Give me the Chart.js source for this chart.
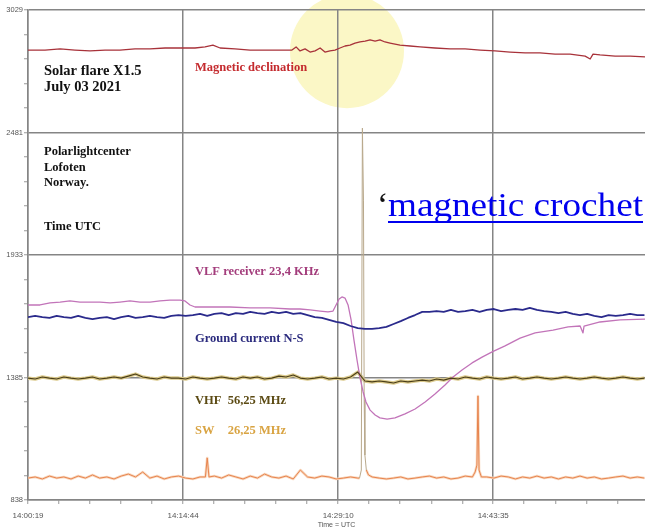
<!DOCTYPE html>
<html><head><meta charset="utf-8">
<script src="https://cdn.jsdelivr.net/npm/chart.js@4.4.1/dist/chart.umd.min.js"></script>
<style>html,body{margin:0;padding:0;background:#fff;}canvas{display:block;}</style>
</head><body>
<canvas id="c" width="645" height="529"></canvas>
<script>
// ---- axis ticks ----
const xTickValues = [0, 865, 1731, 2596];            // seconds after 14:00:19
const xTickLabels = ['14:00:19', '14:14:44', '14:29:10', '14:43:35'];
const yTickValues = [838, 1385.75, 1933.5, 2481.25, 3029];
const yTickLabels = ['838', '1385', '1933', '2481', '3029'];
const xMin = 0, xMax = 3443, yMin = 838, yMax = 3029;

// ---- Magnetic declination ----
const declTime = [0,95,179,262,346,430,513,597,681,765,848,932,988,1032,1072,1155,1239,1323,1406,1473,1496,1518,1546,1574,1602,1630,1657,1685,1713,1741,1769,1797,1825,1853,1881,1909,1937,1964,1992,2020,2076,2132,2188,2271,2355,2439,2523,2606,2690,2774,2857,2941,3025,3109,3137,3153,3192,3276,3360,3443];
const declValue = [2850,2850,2855,2850,2846,2850,2850,2855,2855,2859,2859,2859,2864,2872,2859,2855,2850,2850,2850,2850,2864,2846,2855,2841,2846,2859,2841,2846,2850,2859,2868,2872,2881,2886,2890,2895,2890,2895,2886,2881,2872,2868,2864,2859,2855,2855,2850,2846,2841,2837,2837,2832,2832,2823,2810,2832,2828,2823,2823,2819];

// ---- VLF receiver 23,4 KHz ----
const vlfTime = [0,67,123,179,234,290,346,402,458,513,569,625,681,737,792,848,876,904,932,1016,1127,1239,1351,1462,1518,1574,1630,1674,1702,1719,1736,1752,1769,1786,1803,1819,1836,1853,1870,1886,1909,1937,1964,2004,2048,2104,2160,2216,2271,2327,2372,2422,2478,2534,2590,2662,2746,2830,2930,3014,3081,3097,3103,3192,3304,3443];
const vlfValue = [1710,1710,1719,1723,1728,1723,1723,1723,1719,1723,1728,1723,1723,1728,1732,1732,1728,1710,1701,1701,1701,1697,1697,1692,1692,1688,1683,1679,1683,1710,1737,1746,1741,1710,1643,1553,1464,1383,1321,1276,1240,1218,1205,1200,1205,1223,1245,1276,1312,1352,1388,1419,1451,1477,1500,1527,1562,1585,1598,1612,1616,1585,1616,1634,1643,1647];

// ---- common 40 s sampling for Ground current and VHF ----
const gridTime = [0,40,80,120,160,200,240,280,320,360,400,440,480,520,560,600,640,680,720,760,800,840,880,920,960,1000,1040,1080,1120,1160,1200,1240,1280,1320,1360,1400,1440,1480,1520,1560,1600,1640,1680,1720,1760,1800,1840,1880,1920,1960,2000,2040,2080,2120,2160,2200,2240,2280,2320,2360,2400,2440,2480,2520,2560,2600,2640,2680,2720,2760,2800,2840,2880,2920,2960,3000,3040,3080,3120,3160,3200,3240,3280,3320,3360,3400,3440];
const groundValue = [1656,1661,1656,1652,1661,1656,1652,1661,1652,1647,
  1652,1656,1647,1656,1661,1652,1656,1661,1656,1652,
  1661,1665,1661,1665,1670,1661,1670,1674,1665,1674,
  1670,1679,1674,1670,1679,1674,1679,1670,1674,1665,
  1656,1652,1643,1634,1629,1616,1607,1603,1603,1607,
  1612,1625,1638,1652,1665,1679,1679,1683,1679,1688,
  1679,1683,1688,1679,1688,1692,1683,1688,1692,1688,
  1697,1688,1683,1679,1674,1679,1670,1665,1670,1661,
  1656,1665,1661,1665,1670,1665,1665];
const vhfValue = [1383,1379,1388,1383,1379,1388,1383,1379,1383,1388,
  1379,1383,1388,1383,1392,1401,1388,1383,1379,1388,
  1383,1383,1379,1388,1383,1379,1383,1388,1383,1379,
  1388,1383,1388,1379,1383,1392,1388,1397,1383,1379,
  1383,1388,1379,1383,1379,1388,1410,1370,1366,1370,
  1366,1361,1370,1366,1370,1374,1370,1379,1374,1383,
  1379,1388,1383,1379,1388,1383,1379,1383,1388,1379,
  1383,1388,1383,1379,1383,1388,1383,1379,1383,1388,
  1383,1379,1383,1388,1383,1379,1383];

// ---- SW 26,25 MHz ----
const swTime = [0,40,80,120,160,200,240,280,320,360,400,440,480,520,560,600,640,680,720,760,800,840,880,920,960,990,1000,1010,1040,1080,1120,1160,1200,1240,1280,1320,1360,1400,1440,1480,1520,1560,1600,1640,1680,1720,1760,1800,1840,1850,1860,1866,1872,1876,1880,1888,1900,1920,1960,2000,2040,2080,2120,2160,2200,2240,2280,2320,2360,2400,2440,2480,2495,2505,2511,2517,2530,2560,2600,2640,2680,2720,2760,2800,2840,2880,2920,2960,3000,3040,3080,3120,3160,3200,3240,3280,3320,3360,3400,3440];
const swValue = [936,941,932,945,936,941,932,945,936,950,936,941,932,945,954,941,963,936,945,932,941,945,936,932,941,941,1026,941,945,936,950,941,932,945,936,954,941,936,945,932,972,941,936,945,941,932,936,941,936,936,972,2501,2179,1285,1039,972,950,941,936,932,936,941,932,936,941,945,936,941,932,936,945,941,963,994,1303,972,941,941,936,945,941,932,941,936,945,936,941,932,941,936,945,936,941,932,936,941,945,936,941,936];
// time window of the main flare spike (seconds)
const flareWindow = [1850, 1888];

// ---- highlight circle (centre in data units) ----
const circleCentre = { t: 1780, v: 2845 };

function pts(t, v) { return t.map((x, i) => ({ x: x, y: v[i] })); }
function withMinors(majors, step, lo, hi) {
  const out = [];
  for (let i = 0; i < majors.length; i++) {
    out.push(majors[i]);
    for (let k = 1; k < 5; k++) { const m = majors[i] + step * k; if (m < hi) out.push(m); }
  }
  return out.filter(v => v >= lo && v <= hi);
}
const xAll = withMinors(xTickValues, 173.1, xMin, xMax);
const yAll = withMinors(yTickValues, 109.55, yMin, yMax);
const inFlare = c => c.p0.parsed.x >= flareWindow[0] && c.p1.parsed.x <= flareWindow[1];

const annot = {
  id: 'annot',
  beforeDraw(chart) {
    const { ctx, scales: { x, y } } = chart;
    ctx.save();
    ctx.fillStyle = '#fff';
    ctx.fillRect(0, 0, chart.width, chart.height);
    const cx = x.getPixelForValue(circleCentre.t), cy = y.getPixelForValue(circleCentre.v);
    ctx.beginPath(); ctx.arc(cx, cy, 57, 0, Math.PI * 2);
    ctx.fillStyle = '#fbf7c6'; ctx.fill();
    ctx.restore();
  },
  afterDatasetsDraw(chart) {
    const ctx = chart.ctx;
    ctx.save();
    ctx.textBaseline = 'middle';
    const t = (s, x, y, font, col, align) => { ctx.font = font; ctx.fillStyle = col; ctx.textAlign = align || 'left'; ctx.fillText(s, x, y); };
    const B = 'bold 12.5px "Liberation Serif"';
    t('Solar flare X1.5', 44, 71, 'bold 14.5px "Liberation Serif"', '#111');
    t('July 03 2021', 44, 87, 'bold 14.5px "Liberation Serif"', '#111');
    t('Magnetic declination', 195, 68, B, '#c42a2e');
    t('Polarlightcenter', 44, 152, B, '#111');
    t('Lofoten', 44, 168, B, '#111');
    t('Norway.', 44, 183, B, '#111');
    t('Time UTC', 44, 227, B, '#111');
    t('VLF receiver 23,4 KHz', 195, 272, B, '#a33d7c');
    t('Ground current N-S', 195, 339, B, '#2b2b7e');
    t('VHF', 195, 401, B, '#5c4b14');
    t('56,25 MHz', 286, 401, B, '#5c4b14', 'right');
    t('SW', 195, 431, B, '#d9a443');
    t('26,25 MHz', 286, 431, B, '#d9a443', 'right');
    // magnetic crochet
    ctx.textBaseline = 'alphabetic';
    t('\u2018', 377, 216, '34px "Liberation Serif"', '#111');
    ctx.font = '34px "Liberation Serif"';
    ctx.textAlign = 'left';
    const w = ctx.measureText('magnetic crochet').width;
    ctx.save();
    ctx.translate(388, 216);
    ctx.scale(255 / w, 1);
    ctx.fillStyle = '#0000ee';
    ctx.fillText('magnetic crochet', 0, 0);
    ctx.restore();
    ctx.fillStyle = '#0000ee';
    ctx.fillRect(388, 221, 255, 2);
    ctx.restore();
  }
};

function gridCol(majors) {
  return ctx => (ctx.tick && majors.some(m => Math.abs(m - ctx.tick.value) < 1e-6)) ? '#858585' : 'rgba(0,0,0,0)';
}

new Chart(document.getElementById('c'), {
  type: 'line',
  data: {
    datasets: [
      { label: 'Magnetic declination', data: pts(declTime, declValue), borderColor: '#a8323a', borderWidth: 1.3 },
      { label: 'Ground current N-S', data: pts(gridTime, groundValue), borderColor: '#2a2a8c', borderWidth: 1.8 },
      { label: 'VHF 56,25 MHz', data: pts(gridTime, vhfValue), borderColor: '#4a3e18', borderWidth: 1.1 },
      { label: 'VLF receiver 23,4 KHz', data: pts(vlfTime, vlfValue), borderColor: '#c274b9', borderWidth: 1.3 },
      { label: 'SW 26,25 MHz', data: pts(swTime, swValue), borderColor: '#e8844e', borderWidth: 1,
        segment: { borderColor: c => inFlare(c) ? '#b9a98c' : undefined } },
      { label: 'VHF halo', data: pts(gridTime, vhfValue), borderColor: '#dccb8e', borderWidth: 3.5 },
      { label: 'SW halo', data: pts(swTime, swValue), borderColor: '#f8d8bf', borderWidth: 2.6,
        segment: { borderColor: c => inFlare(c) ? 'rgba(0,0,0,0)' : undefined } }
    ]
  },
  options: {
    responsive: false, animation: false, devicePixelRatio: 1,
    elements: { point: { radius: 0 }, line: { tension: 0, borderJoinStyle: 'round' } },
    layout: { padding: { top: 10, right: 0, left: 0, bottom: 0 } },
    plugins: { legend: { display: false }, tooltip: { enabled: false } },
    scales: {
      x: {
        type: 'linear', min: xMin, max: xMax,
        afterBuildTicks: s => { s.ticks = xAll.map(v => ({ value: v })); },
        afterFit: s => { s.height = 29; },
        ticks: {
          autoSkip: false, maxRotation: 0, padding: 7, color: '#555',
          font: { family: '"Liberation Sans"', size: 8 },
          callback: v => { const i = xTickValues.findIndex(m => Math.abs(m - v) < 1e-6); return i >= 0 ? xTickLabels[i] : ''; }
        },
        grid: { color: gridCol(xTickValues), lineWidth: 1.5, tickLength: 4, tickColor: '#999', tickWidth: 1 },
        border: { display: true, color: '#858585', width: 1.5 },
        title: { display: true, text: 'Time = UTC', color: '#555', font: { family: '"Liberation Sans"', size: 7 }, padding: { top: 0, bottom: 0 } }
      },
      y: {
        type: 'linear', min: yMin, max: yMax,
        afterBuildTicks: s => { s.ticks = yAll.map(v => ({ value: v })); },
        afterFit: s => { s.width = 28; },
        ticks: {
          autoSkip: false, padding: 1, color: '#555',
          font: { family: '"Liberation Sans"', size: 7.5 },
          callback: v => { const i = yTickValues.findIndex(m => Math.abs(m - v) < 1e-6); return i >= 0 ? yTickLabels[i] : ''; }
        },
        grid: { color: gridCol(yTickValues), lineWidth: 1.5, tickLength: 4, tickColor: '#999', tickWidth: 1 },
        border: { display: true, color: '#858585', width: 1.5 }
      }
    }
  },
  plugins: [annot]
});
</script>
</body></html>
